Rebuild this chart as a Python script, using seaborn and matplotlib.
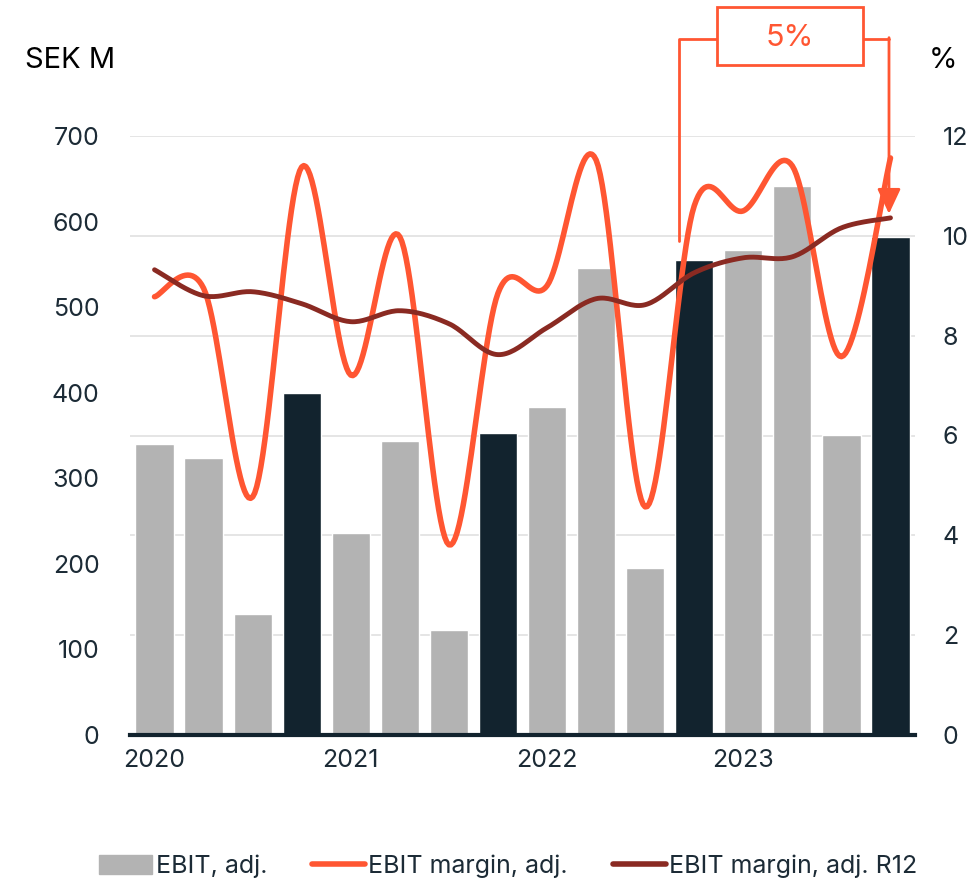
import numpy as np
import matplotlib
matplotlib.use("Agg")
import matplotlib.pyplot as plt
import seaborn as sns
from matplotlib.patches import Patch, Rectangle
from matplotlib.lines import Line2D

# kwartaalcijfers 2020-2023
kwartalen = [f"{j} Q{q}" for j in range(2020, 2024) for q in range(1, 5)]
ebit_adj = [340, 324, 141, 400, 236, 344, 123, 353, 383, 546, 195, 555, 567, 642, 351, 582]
marge_adj = [8.78, 8.95, 4.77, 11.38, 7.21, 9.98, 3.81, 8.85, 9.00, 11.52, 4.57, 10.60, 10.50, 11.40, 7.58, 11.56]
marge_r12 = [9.32, 8.80, 8.88, 8.64, 8.28, 8.50, 8.24, 7.62, 8.16, 8.74, 8.62, 9.26, 9.56, 9.58, 10.16, 10.36]
jaren = ["2020", "2021", "2022", "2023"]
links_ticks = [0, 100, 200, 300, 400, 500, 600, 700]
rechts_ticks = [0, 2, 4, 6, 8, 10, 12]

GRIJS = "#b3b3b3"
DONKER = "#12232e"
ORANJE = "#ff5632"
ROOD = "#8a2a22"
TEKST = "#1c2b36"


def glad(x, y, n=24):
    # Bezier-gladmaken zoals Excel (Catmull-Rom)
    p = np.column_stack([x, y]).astype(float)
    P = np.vstack([p[0], p, p[-1]])
    uit = []
    t = np.linspace(0, 1, n, endpoint=False)[:, None]
    for i in range(len(p) - 1):
        p0, p1, p2, p3 = P[i], P[i + 1], P[i + 2], P[i + 3]
        c1 = p1 + (p2 - p0) / 6
        c2 = p2 - (p3 - p1) / 6
        seg = (1 - t) ** 3 * p1 + 3 * (1 - t) ** 2 * t * c1 + 3 * (1 - t) * t ** 2 * c2 + t ** 3 * p2
        uit.append(seg)
    uit.append(p[-1][None, :])
    uit = np.vstack(uit)
    return uit[:, 0], uit[:, 1]


sns.set_style("white")
plt.rcParams["font.family"] = ["Inter", "DejaVu Sans"]

fig = plt.figure(figsize=(9.78, 8.89), dpi=100)
ax = fig.add_axes([130 / 978, 1 - 735 / 889, 785 / 978, 599 / 889])

kleuren = [DONKER if k.endswith("Q4") else GRIJS for k in kwartalen]
sns.barplot(x=kwartalen, y=ebit_adj, hue=kwartalen, palette=kleuren, legend=False,
            width=0.78, saturation=1, ax=ax, zorder=2)
ax.set_xlim(-0.5, 15.5)
ax.set_ylim(0, 700)

# rasterlijnen horen bij de rechteras (0-12 %)
for v in rechts_ticks[1:]:
    ax.axhline(v / 12 * 700, color="#e0e0e0", lw=1.2, zorder=0)

ax.set_yticks(links_ticks)
ax.set_yticklabels([str(v) for v in links_ticks], fontsize=18, color=TEKST)
ax.set_xticks([0, 4, 8, 12])
ax.set_xticklabels(jaren, fontsize=18, color=TEKST)
ax.tick_params(axis="both", length=0)
ax.tick_params(axis="y", pad=22)
ax.tick_params(axis="x", pad=10)
for s in ["top", "right", "left"]:
    ax.spines[s].set_visible(False)
ax.spines["bottom"].set_color(DONKER)
ax.spines["bottom"].set_linewidth(3)
ax.spines["bottom"].set_zorder(5)
ax.set_xlabel("")
ax.set_ylabel("")

ax2 = ax.twinx()
ax2.set_ylim(0, 12)
xs = np.arange(len(kwartalen))
gx, gy = glad(xs, marge_adj)
sns.lineplot(x=gx, y=gy, sort=False, color=ORANJE, lw=4, ax=ax2, zorder=3)
rx, ry = glad(xs, marge_r12)
sns.lineplot(x=rx, y=ry, sort=False, color=ROOD, lw=3.5, ax=ax2, zorder=4)
ax2.set_yticks(rechts_ticks)
ax2.set_yticklabels([str(v) for v in rechts_ticks], fontsize=18, color=TEKST)
ax2.tick_params(axis="y", length=0, pad=20)
for s in ax2.spines.values():
    s.set_visible(False)
ax2.set_xlim(-0.5, 15.5)

# haak met "5%" bovenaan
xl, xr = 10.7, 14.97
bx0, bx1 = 11.47, 14.43
ytop = 13.95
ax2.plot([xl, xl, bx0], [9.9, ytop, ytop], color=ORANJE, lw=2, clip_on=False, zorder=6)
ax2.plot([bx1, xr], [ytop, ytop], color=ORANJE, lw=2, clip_on=False, zorder=6)
ax2.add_patch(Rectangle((bx0, 13.43), bx1 - bx0, 1.16, fc="white", ec=ORANJE, lw=2,
                        clip_on=False, zorder=6))
ax2.annotate("", xy=(xr, marge_r12[-1] + 0.08), xytext=(xr, ytop + 0.02),
             arrowprops=dict(arrowstyle="-|>,head_length=0.9,head_width=0.42", color=ORANJE, lw=2,
                             shrinkA=0, shrinkB=0, mutation_scale=17),
             annotation_clip=False, zorder=6)
ax2.text((bx0 + bx1) / 2, ytop + 0.02, "5%", ha="center", va="center", fontsize=22, color=ORANJE,
         clip_on=False, zorder=7)

fig.text(25 / 978, 1 - 60 / 889, "SEK M", fontsize=21, color="black", va="center", ha="left")
fig.text(943 / 978, 1 - 60 / 889, "%", fontsize=21, color="black", va="center", ha="center")

handles = [Patch(color=GRIJS), Line2D([], [], color=ORANJE, lw=4), Line2D([], [], color=ROOD, lw=4)]
labels = ["EBIT, adj.", "EBIT margin, adj.", "EBIT margin, adj. R12"]
leg = fig.legend(handles, labels, loc="center", bbox_to_anchor=(0.52, 1 - 866 / 889), ncol=3,
                 frameon=False, fontsize=18, handlelength=2.1, handleheight=0.8,
                 handletextpad=0.15, columnspacing=1.8)
for t in leg.get_texts():
    t.set_color(TEKST)

fig.savefig("out.png", dpi=100)
